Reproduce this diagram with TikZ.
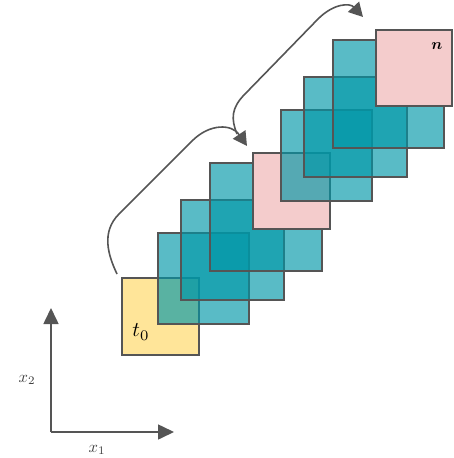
\documentclass[tikz,border=0pt]{standalone}
\usetikzlibrary{arrows.meta}

\definecolor{edgegrey}{HTML}{555555}
\definecolor{stepyellow}{HTML}{FFE599}
\definecolor{steppink}{HTML}{F4CCCC}
\definecolor{patchteal}{RGB}{0,151,167}

\tikzset{
  sq/.style={draw=edgegrey, line width=1.6pt, inner sep=0pt, outer sep=0pt},
  yellowsq/.style={sq, fill=stepyellow},
  pinksq/.style={sq, fill=steppink},
  tealsq/.style={sq, fill=patchteal, fill opacity=0.65},
  hop/.style={draw=edgegrey, line width=1.6pt,
    -{Triangle[length=14pt,width=15pt]}},
  axis/.style={draw=edgegrey, line width=1.6pt,
    -{Triangle[length=16pt,width=15pt]}},
  lab/.style={inner sep=0pt},
}

\begin{document}
\begin{tikzpicture}[x=1pt, y=-1pt]
\useasboundingbox (0,0) rectangle (453,458);

% first time step
\node[yellowsq, minimum width=77, minimum height=77] (Y) at (160.5,316.5) {};
\node[lab] (t0) at (141,332) {\scalebox{2.1}{$t_0$}};

% growing patches, first stage
\node[tealsq, minimum width=91, minimum height=91] (T1) at (203.5,278.5) {};
\node[tealsq, minimum width=103, minimum height=100] (T2) at (232.5,250) {};
\node[tealsq, minimum width=112, minimum height=108] (T3) at (266,217) {};
\node[pinksq, minimum width=77, minimum height=76] (P1) at (291.5,191) {};

% growing patches, second stage
\node[tealsq, minimum width=91, minimum height=91] (U1) at (326.5,155.5) {};
\node[tealsq, minimum width=103, minimum height=100] (U2) at (355.5,127) {};
\node[tealsq, minimum width=111, minimum height=108] (U3) at (388.5,94) {};
\node[pinksq, minimum width=76, minimum height=76] (Pn) at (414,68) {};
\node[lab] (nlab) at (437,46) {\scalebox{1.55}{\boldmath$n$}};

% hops between time steps
\coordinate (h1s) at (117,274);
\coordinate (h1e) at (247,146);
\coordinate (h2s) at (237,134);
\coordinate (h2e) at (363,17);
\draw[hop] (h1s) .. controls (108,255) and (101,232) .. (119,214)
  -- (192,141) .. controls (210,123) and (232,124) .. (h1e);
\draw[hop] (h2s) .. controls (231,119) and (231,108) .. (245,94)
  -- (318,19) .. controls (334,3) and (350,3) .. (h2e);

% axes
\coordinate (O) at (51,432);
\coordinate (X2) at (51,308);
\coordinate (X1) at (174,432);
\draw[axis] (O) -- (X2);
\draw[axis] (O) -- (X1);
\node[lab, text=black!75] (x2lab) at (27,380) {\scalebox{1.65}{$x_2$}};
\node[lab, text=black!75] (x1lab) at (97,450) {\scalebox{1.65}{$x_1$}};
\end{tikzpicture}
\end{document}
